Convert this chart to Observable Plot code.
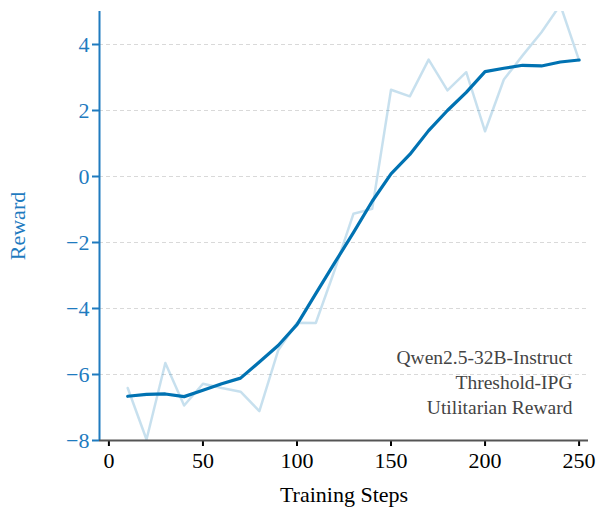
<!DOCTYPE html>
<html>
<head>
<meta charset="utf-8">
<script src="https://cdn.jsdelivr.net/npm/d3@7"></script>
<script src="https://cdn.jsdelivr.net/npm/@observablehq/plot@0.6"></script>
<style>
  html, body { margin: 0; padding: 0; background: #fff; }
  #chart { width: 597px; height: 512px; }
</style>
</head>
<body>
<div id="chart"></div>
<script>
const steps = [10, 20, 30, 40, 50, 60, 70, 80, 90, 100, 110, 120, 130, 140, 150, 160, 170, 180, 190, 200, 210, 220, 230, 240, 250];
const rawReward = [-6.41, -7.97, -5.65, -6.94, -6.28, -6.41, -6.52, -7.11, -5.27, -4.43, -4.44, -2.84, -1.13, -0.98, 2.63, 2.43, 3.54, 2.61, 3.16, 1.37, 2.94, 3.67, 4.37, 5.2, 3.52];
const smoothReward = [-6.66, -6.6, -6.59, -6.67, -6.48, -6.28, -6.11, -5.62, -5.12, -4.49, -3.55, -2.62, -1.7, -0.75, 0.08, 0.67, 1.39, 2.0, 2.55, 3.18, 3.28, 3.37, 3.35, 3.47, 3.53];
const xTicks = [0, 50, 100, 150, 200, 250];
const yTicks = [-8, -6, -4, -2, 0, 2, 4];
const annotationLines = ["Qwen2.5-32B-Instruct", "Threshold-IPG", "Utilitarian Reward"];

const rawData = steps.map((s, i) => ({step: s, reward: rawReward[i]}));
const smoothData = steps.map((s, i) => ({step: s, reward: smoothReward[i]}));

const blue = "#0072B2";
const axisBlue = "#1f7bbf";
const font = "Liberation Serif, Times New Roman, serif";

const chart = Plot.plot({
  width: 597,
  height: 512,
  marginLeft: 99,
  marginRight: 9,
  marginTop: 11,
  marginBottom: 72,
  style: {fontFamily: font, fontSize: "22px", background: "#fff"},
  x: {domain: [-5, 255]},
  y: {domain: [-8, 5]},
  marks: [
    Plot.gridY(yTicks, {stroke: "#d9d9d9", strokeOpacity: 1, strokeDasharray: "4,3", strokeWidth: 1}),
    Plot.axisY(yTicks, {
      color: axisBlue, stroke: axisBlue, strokeWidth: 2, tickSize: 7, tickPadding: 3,
      fontSize: 22, label: "Reward", labelAnchor: "center", labelOffset: 90, labelArrow: "none"
    }),
    Plot.axisX(xTicks, {
      color: "#000", stroke: "#000", strokeWidth: 2, tickSize: 6, tickPadding: 6,
      fontSize: 22, label: "Training Steps", labelAnchor: "center", labelOffset: 61, labelArrow: "none"
    }),
    Plot.line(rawData, {x: "step", y: "reward", stroke: blue, strokeOpacity: 0.22, strokeWidth: 2.5, clip: true}),
    Plot.line(smoothData, {x: "step", y: "reward", stroke: blue, strokeWidth: 3.2, clip: true}),
    Plot.ruleX([-5], {stroke: axisBlue, strokeWidth: 2}),
    Plot.ruleY([-8], {stroke: "#555", strokeWidth: 2}),
    Plot.text([annotationLines.join("\n")], {
      frameAnchor: "bottom-right", dx: -16, dy: -27, textAnchor: "end", lineAnchor: "bottom",
      fontSize: 19.5, fill: "#444", lineHeight: 1.26
    })
  ]
});
document.getElementById("chart").appendChild(chart);
</script>
</body>
</html>
